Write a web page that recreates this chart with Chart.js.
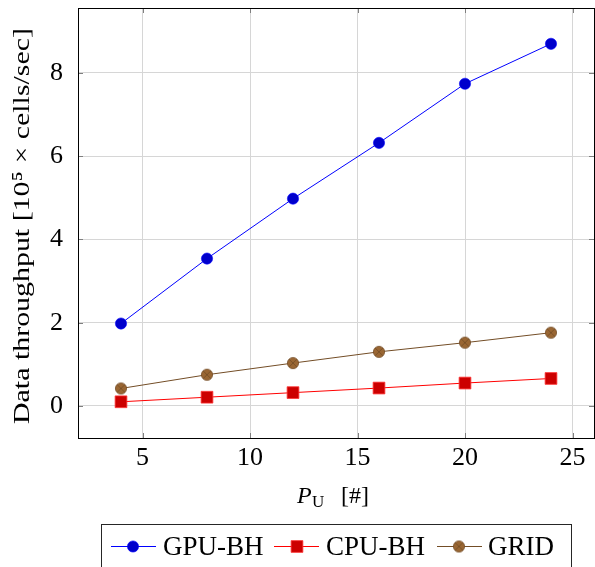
<!DOCTYPE html>
<html>
<head>
<meta charset="utf-8">
<script src="https://cdn.jsdelivr.net/npm/chart.js@4.4.0/dist/chart.umd.min.js"></script>
<style>
  html, body { margin: 0; padding: 0; background: #fff; }
</style>
</head>
<body>
<canvas id="myChart" width="595" height="567"></canvas>
<script>
// data
const procs = [4, 8, 12, 16, 20, 24];
const gpuBH = [1.98, 3.54, 4.98, 6.32, 7.74, 8.70];
const cpuBH = [0.10, 0.21, 0.32, 0.43, 0.55, 0.66];
const gridBH = [0.42, 0.75, 1.03, 1.30, 1.52, 1.76];
const xTicks = [5, 10, 15, 20, 25];
const yTicks = [0, 2, 4, 6, 8];
const seriesNames = ['GPU-BH', 'CPU-BH', 'GRID'];
const yTitle = 'Data throughput [10\u2075 \u00d7 cells/sec]';

const serif = "'Liberation Serif', 'DejaVu Serif', serif";

// markers never reach the plot edge here, so no extra padding for them
Chart.LineController.prototype.getMaxOverflow = function () { return 0; };

// otimes* marker for GRID
function makeOtimes(r) {
  const c = document.createElement('canvas');
  const s = Math.ceil(r * 2 + 2);
  c.width = s; c.height = s;
  const g = c.getContext('2d');
  const m = s / 2;
  g.beginPath();
  g.arc(m, m, r, 0, Math.PI * 2);
  g.fillStyle = '#996633';
  g.fill();
  g.lineWidth = 0.8;
  g.strokeStyle = '#734d26';
  g.stroke();
  const d = r * 0.7071;
  g.beginPath();
  g.moveTo(m - d, m - d); g.lineTo(m + d, m + d);
  g.moveTo(m + d, m - d); g.lineTo(m - d, m + d);
  g.stroke();
  return c;
}
const otimes = makeOtimes(5.6);

function pts(ys) {
  return procs.map((x, i) => ({ x: x, y: ys[i] }));
}

const data = {
  datasets: [{
    label: seriesNames[0],
    data: pts(gpuBH),
    borderColor: '#0000ff',
    backgroundColor: '#0000cc',
    borderWidth: 1,
    pointStyle: 'circle',
    pointRadius: 5.6,
    pointBorderWidth: 0.6,
    pointBorderColor: '#0000ff',
    pointBackgroundColor: '#0000cc'
  }, {
    label: seriesNames[1],
    data: pts(cpuBH),
    borderColor: '#ff0000',
    backgroundColor: '#cc0000',
    borderWidth: 1,
    pointStyle: 'rect',
    pointRadius: 8.3,
    pointBorderWidth: 0.8,
    pointBorderColor: '#ff3333',
    pointBackgroundColor: '#cc0000'
  }, {
    label: seriesNames[2],
    data: pts(gridBH),
    borderColor: '#734d26',
    backgroundColor: '#996633',
    borderWidth: 1,
    pointStyle: otimes,
    pointRadius: 5.6
  }]
};

function noPad(s) {
  s.paddingTop = 0; s.paddingBottom = 0; s.paddingLeft = 0; s.paddingRight = 0;
}

// frame, inward ticks, axis titles and legend like pgfplots
const frame = {
  id: 'frame',
  beforeDatasetsDraw(chart) {
    const { ctx, chartArea: a, scales } = chart;
    ctx.save();
    ctx.strokeStyle = '#7f7f7f';
    ctx.lineWidth = 1;
    ctx.beginPath();
    xTicks.forEach(v => {
      const x = Math.round(scales.x.getPixelForValue(v)) + 0.5;
      ctx.moveTo(x, a.bottom); ctx.lineTo(x, a.bottom - 5);
      ctx.moveTo(x, a.top); ctx.lineTo(x, a.top + 5);
    });
    yTicks.forEach(v => {
      const y = Math.round(scales.y.getPixelForValue(v)) + 0.5;
      ctx.moveTo(a.left, y); ctx.lineTo(a.left + 5, y);
      ctx.moveTo(a.right, y); ctx.lineTo(a.right - 5, y);
    });
    ctx.stroke();
    ctx.strokeStyle = '#000';
    ctx.strokeRect(a.left + 0.5, a.top + 0.5, a.right - a.left, a.bottom - a.top);
    ctx.restore();
  },
  afterDraw(chart) {
    const ctx = chart.ctx;
    const a = chart.chartArea;
    ctx.save();
    ctx.fillStyle = '#000';
    ctx.textBaseline = 'alphabetic';

    // y axis title, stretched a bit to get the width of Computer Modern
    ctx.save();
    ctx.translate(29, 226);
    ctx.rotate(-Math.PI / 2);
    ctx.font = '24px ' + serif;
    const wt = ctx.measureText(yTitle).width;
    ctx.scale(396 / wt, 1);
    ctx.textAlign = 'center';
    ctx.fillText(yTitle, 0, 0);
    ctx.restore();

    // x axis title: P_U [#]
    const cx = (a.left + a.right) / 2;
    ctx.font = 'italic 24px ' + serif;
    ctx.fillText('P', cx - 39, 503);
    ctx.font = '17px ' + serif;
    ctx.fillText('U', cx - 24, 507);
    ctx.font = '24px ' + serif;
    ctx.fillText('[#]', cx + 5, 503);

    // legend box
    ctx.strokeStyle = '#262626';
    ctx.lineWidth = 1;
    ctx.strokeRect(101.5, 524.5, 470, 60);
    const items = [
      { lx: 111, mx: 133, tx: 163, ds: chart.data.datasets[0] },
      { lx: 274, mx: 297, tx: 326, ds: chart.data.datasets[1] },
      { lx: 437, mx: 459, tx: 488, ds: chart.data.datasets[2] }
    ];
    const ly = 546;
    items.forEach(it => {
      const ds = it.ds;
      ctx.strokeStyle = ds.borderColor;
      ctx.lineWidth = 1;
      ctx.beginPath();
      ctx.moveTo(it.lx, ly + 0.5); ctx.lineTo(it.lx + 45, ly + 0.5);
      ctx.stroke();
      ctx.fillStyle = ds.pointBackgroundColor || ds.backgroundColor;
      ctx.strokeStyle = ds.pointBorderColor || ds.borderColor;
      ctx.lineWidth = ds.pointBorderWidth || 0;
      Chart.helpers.drawPoint(ctx, {
        pointStyle: ds.pointStyle,
        radius: ds.pointRadius,
        borderWidth: ds.pointBorderWidth || 0
      }, it.mx, ly + 0.5);
      ctx.fillStyle = '#000';
      ctx.font = '27px ' + serif;
      ctx.fillText(ds.label, it.tx, 555);
    });
    ctx.restore();
  }
};

const config = {
  type: 'line',
  data,
  options: {
    responsive: false,
    animation: false,
    layout: { padding: { top: 8, right: 1, left: 0, bottom: 0 } },
    plugins: {
      legend: { display: false },
      tooltip: { enabled: false }
    },
    scales: {
      x: {
        type: 'linear',
        min: 2,
        max: 26,
        afterBuildTicks: s => { s.ticks = xTicks.map(v => ({ value: v })); },
        afterFit: s => { s.height = 129; noPad(s); },
        grid: { color: '#d6d6d6', lineWidth: 1, drawTicks: false },
        border: { display: false },
        ticks: { color: '#000', font: { family: serif, size: 26 }, padding: 5, maxRotation: 0 }
      },
      y: {
        type: 'linear',
        min: -0.77,
        max: 9.56,
        afterBuildTicks: s => { s.ticks = yTicks.map(v => ({ value: v })); },
        afterFit: s => { s.width = 78; noPad(s); },
        grid: { color: '#d6d6d6', lineWidth: 1, drawTicks: false },
        border: { display: false },
        ticks: { color: '#000', font: { family: serif, size: 26 }, padding: 15 }
      }
    }
  },
  plugins: [frame]
};

// draw chart
const myChart = new Chart(document.getElementById('myChart'), config);
</script>
</body>
</html>
